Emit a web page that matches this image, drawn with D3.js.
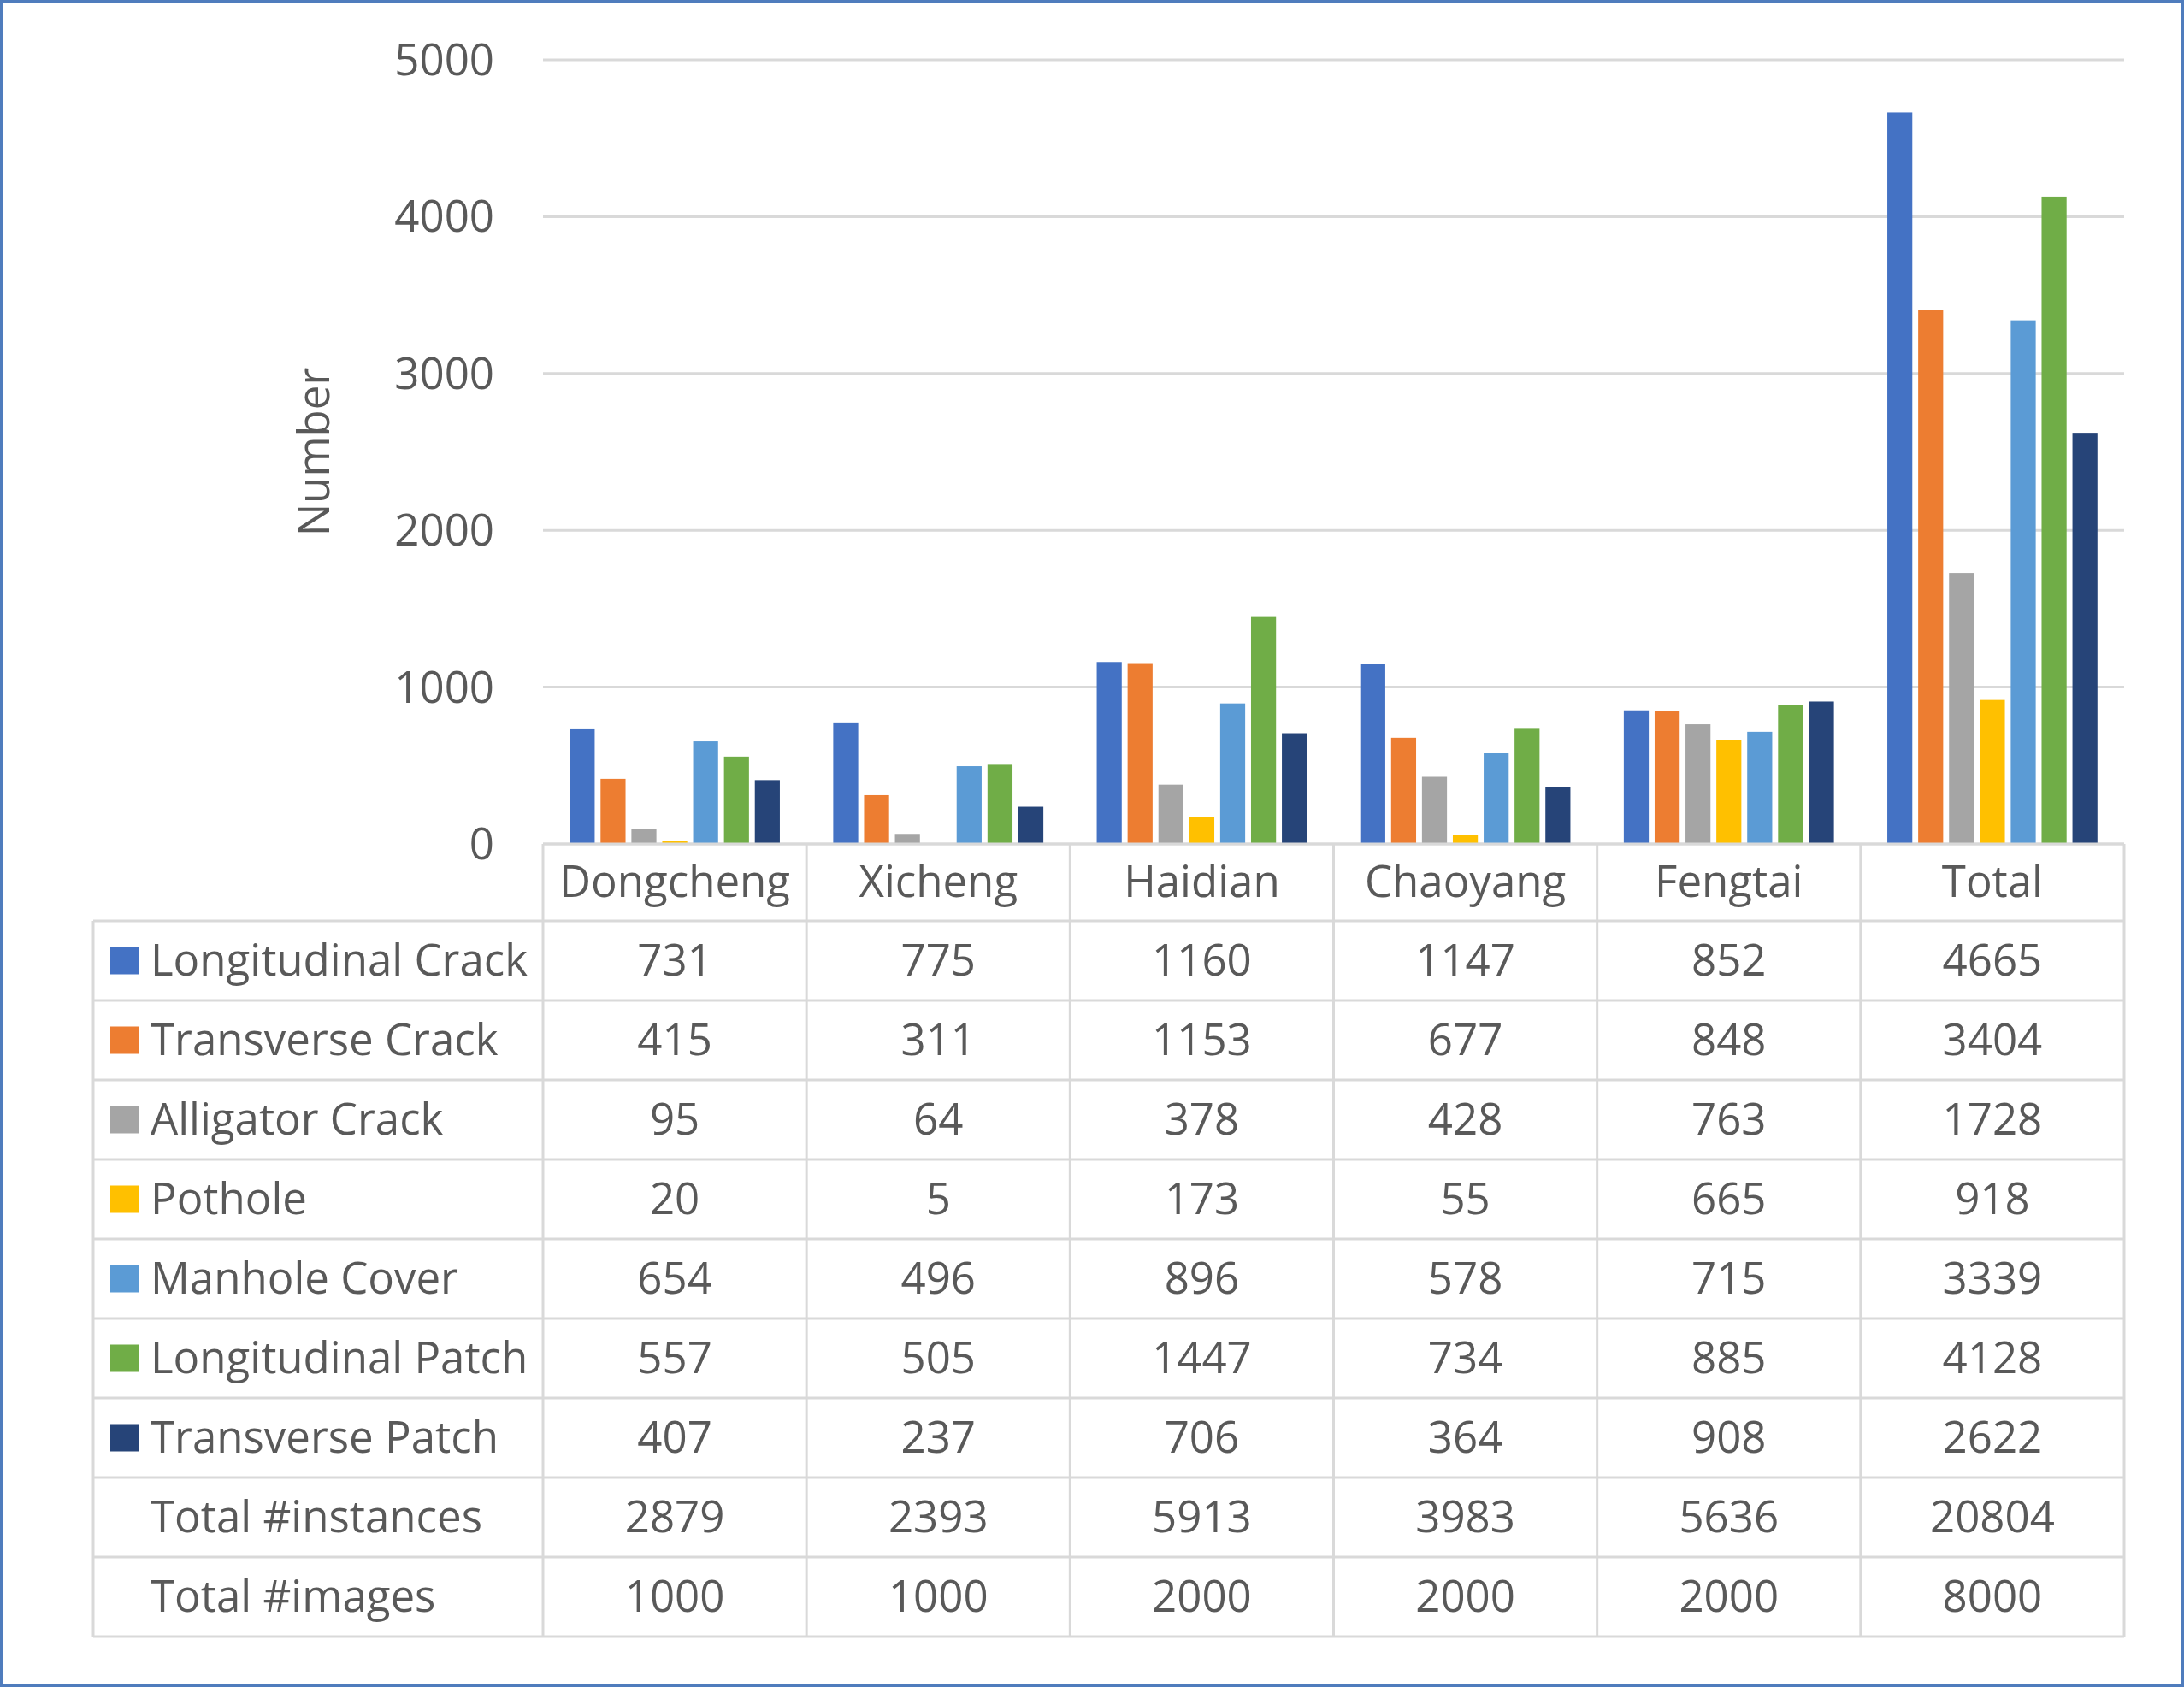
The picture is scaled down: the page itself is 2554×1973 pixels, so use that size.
<!DOCTYPE html>
<html>
<head>
<meta charset="utf-8">
<script src="https://cdn.jsdelivr.net/npm/d3@7"></script>
<style>
  html, body { margin: 0; padding: 0; background: #fff; }
  svg { display: block; }
  text { font-family: "Open Sans", "Noto Sans", sans-serif; fill: #595959; }
</style>
</head>
<body>
<svg id="chart"></svg>
<script>
// ── Data ─────────────────────────────────────────────
const DISTRICTS = ["Dongcheng", "Xicheng", "Haidian", "Chaoyang", "Fengtai", "Total"];
const SERIES = ["Longitudinal Crack", "Transverse Crack", "Alligator Crack", "Pothole",
                "Manhole Cover", "Longitudinal Patch", "Transverse Patch"];
const COLORS = ["#4472c4", "#ed7d31", "#a5a5a5", "#ffc000", "#5b9bd5", "#70ad47", "#264478"];

const LONG_CRACK  = [731, 775, 1160, 1147, 852, 4665];
const TRANS_CRACK = [415, 311, 1153, 677, 848, 3404];
const ALLIG_CRACK = [95, 64, 378, 428, 763, 1728];
const POTHOLE     = [20, 5, 173, 55, 665, 918];
const MANHOLE     = [654, 496, 896, 578, 715, 3339];
const LONG_PATCH  = [557, 505, 1447, 734, 885, 4128];
const TRANS_PATCH = [407, 237, 706, 364, 908, 2622];
const VALUES = [LONG_CRACK, TRANS_CRACK, ALLIG_CRACK, POTHOLE, MANHOLE, LONG_PATCH, TRANS_PATCH];

const TOTAL_INSTANCES = [2879, 2393, 5913, 3983, 5636, 20804];
const TOTAL_IMAGES    = [1000, 1000, 2000, 2000, 2000, 8000];

const Y_TICKS = [0, 1000, 2000, 3000, 4000, 5000];

// ── Layout ───────────────────────────────────────────
const W = 2554, H = 1973;
const plotL = 635, plotR = 2484, plotT = 70, plotB = 987;
const tableL = 109, headerH = 90, rowH = 93;
const FS = 51;
const GRID = "#d9d9d9";

const svg = d3.select("#chart").attr("width", W).attr("height", H);
svg.append("rect").attr("width", W).attr("height", H).attr("fill", "#fff");

const x0 = d3.scaleBand().domain(DISTRICTS).range([plotL, plotR]);
const x1 = d3.scaleBand().domain(SERIES).range([0, x0.bandwidth()])
  .paddingInner(0.19).paddingOuter(0.865);
const y = d3.scaleLinear().domain([0, 5000]).range([plotB, plotT]);

// gridlines
svg.append("g").selectAll("line").data(Y_TICKS).join("line")
  .attr("x1", plotL).attr("x2", plotR)
  .attr("y1", d => y(d)).attr("y2", d => y(d))
  .attr("stroke", GRID).attr("stroke-width", 3);

// y tick labels
svg.append("g").selectAll("text").data(Y_TICKS).join("text")
  .attr("x", 578).attr("y", d => y(d) + 18)
  .attr("text-anchor", "end").attr("font-size", FS)
  .text(d => d);

// axis title
svg.append("text")
  .attr("transform", `translate(385,${(plotT + plotB) / 2}) rotate(-90)`)
  .attr("text-anchor", "middle").attr("font-size", FS)
  .text("Number");

// bars
const bars = [];
SERIES.forEach((s, si) => DISTRICTS.forEach((d, di) =>
  bars.push({ series: s, district: d, value: VALUES[si][di], color: COLORS[si] })));

svg.append("g").selectAll("rect").data(bars).join("rect")
  .attr("x", d => x0(d.district) + x1(d.series))
  .attr("width", x1.bandwidth())
  .attr("y", d => y(d.value))
  .attr("height", d => plotB - y(d.value))
  .attr("fill", d => d.color);

// ── Data table ───────────────────────────────────────
const ROWS = SERIES.map((s, i) => ({ label: s, color: COLORS[i], vals: VALUES[i] }))
  .concat([{ label: "Total #instances", color: null, vals: TOTAL_INSTANCES },
           { label: "Total #images",    color: null, vals: TOTAL_IMAGES }]);

const rowTop = plotB + headerH;
const tableB = rowTop + ROWS.length * rowH;
const tbl = svg.append("g");

// horizontal lines
tbl.append("line").attr("x1", plotL).attr("x2", plotR)
  .attr("y1", plotB).attr("y2", plotB);
tbl.selectAll("line.h").data(d3.range(ROWS.length + 1)).join("line").attr("class", "h")
  .attr("x1", tableL).attr("x2", plotR)
  .attr("y1", i => rowTop + i * rowH).attr("y2", i => rowTop + i * rowH);
// vertical lines
tbl.selectAll("line.v").data(DISTRICTS.map(d => x0(d)).concat([plotR])).join("line").attr("class", "v")
  .attr("x1", d => d).attr("x2", d => d)
  .attr("y1", plotB).attr("y2", tableB);
tbl.append("line").attr("x1", tableL).attr("x2", tableL)
  .attr("y1", rowTop).attr("y2", tableB);
tbl.selectAll("line").attr("stroke", GRID).attr("stroke-width", 3);

// header labels
tbl.selectAll("text.hd").data(DISTRICTS).join("text").attr("class", "hd")
  .attr("x", d => x0(d) + x0.bandwidth() / 2)
  .attr("y", plotB + headerH / 2 + 17)
  .attr("text-anchor", "middle").attr("font-size", FS)
  .text(d => d);

// rows
const rowG = tbl.selectAll("g.row").data(ROWS).join("g").attr("class", "row")
  .attr("transform", (d, i) => `translate(0,${rowTop + i * rowH + rowH / 2})`);

rowG.filter(d => d.color).append("rect")
  .attr("x", 129).attr("y", -16).attr("width", 33).attr("height", 32)
  .attr("fill", d => d.color);

rowG.append("text")
  .attr("x", 176).attr("y", 17).attr("font-size", FS)
  .text(d => d.label);

rowG.selectAll("text.val").data(d => d.vals).join("text").attr("class", "val")
  .attr("x", (v, i) => x0(DISTRICTS[i]) + x0.bandwidth() / 2)
  .attr("y", 17).attr("text-anchor", "middle").attr("font-size", FS)
  .text(v => v);

// outer frame
svg.append("rect").attr("x", 1.5).attr("y", 1.5)
  .attr("width", W - 3).attr("height", H - 3)
  .attr("fill", "none").attr("stroke", "#4f7cbd").attr("stroke-width", 3);
</script>
</body>
</html>
